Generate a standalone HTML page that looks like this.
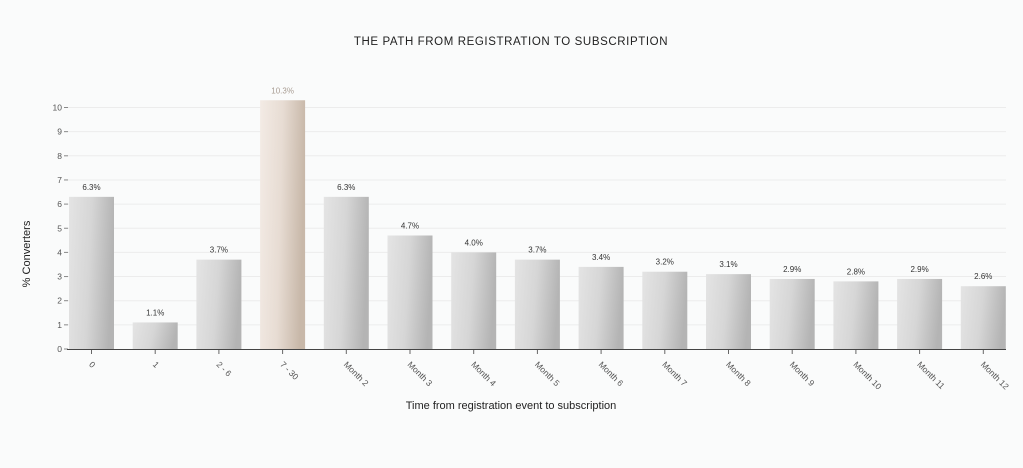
<!DOCTYPE html>
<html><head><meta charset="utf-8"><style>
body{margin:0;background:#fafbfb;font-family:"Liberation Sans",sans-serif}
svg{display:block}
</style></head><body>
<svg width="1023" height="468" viewBox="0 0 1023 468" xmlns="http://www.w3.org/2000/svg">
<defs>
<linearGradient id="g" x1="0" y1="0" x2="1" y2="0.15"><stop offset="0" stop-color="#e4e4e4"/><stop offset="0.5" stop-color="#d6d6d6"/><stop offset="1" stop-color="#b4b4b4"/></linearGradient>
<linearGradient id="h" x1="0" y1="0" x2="1" y2="0.15"><stop offset="0" stop-color="#f3ebe5"/><stop offset="0.5" stop-color="#e7dcd3"/><stop offset="1" stop-color="#c8b8a9"/></linearGradient>
</defs>
<rect width="1023" height="468" fill="#fafbfb"/>
<text x="511" y="45" text-anchor="middle" font-size="11.5" letter-spacing="0.6" fill="#222">THE PATH FROM REGISTRATION TO SUBSCRIPTION</text>
<text transform="translate(30,254) rotate(-90)" text-anchor="middle" font-size="11" fill="#222">% Converters</text>
<text x="511" y="409" text-anchor="middle" font-size="11" fill="#222">Time from registration event to subscription</text>
<g id="grid"></g><g id="bars"></g><g id="xl"></g>
<line x1="67" y1="349.5" x2="1006" y2="349.5" stroke="#444" stroke-width="1"/>
</svg>
<script>
const categories=["0","1","2 - 6","7 - 30","Month 2","Month 3","Month 4","Month 5","Month 6","Month 7","Month 8","Month 9","Month 10","Month 11","Month 12"];
const values=[6.3,1.1,3.7,10.3,6.3,4.7,4.0,3.7,3.4,3.2,3.1,2.9,2.8,2.9,2.6];
const valueLabels=["6.3%","1.1%","3.7%","10.3%","6.3%","4.7%","4.0%","3.7%","3.4%","3.2%","3.1%","2.9%","2.8%","2.9%","2.6%"];
const yTicks=[0,1,2,3,4,5,6,7,8,9,10];
const highlight=3;
const NS="http://www.w3.org/2000/svg";
const y=v=>349-v*24.15;
const x=i=>91.5+i*63.7;
function mk(t,a,p){const e=document.createElementNS(NS,t);for(const k in a)e.setAttribute(k,a[k]);p.appendChild(e);return e;}
const grid=document.getElementById('grid'),bars=document.getElementById('bars'),xl=document.getElementById('xl');
yTicks.forEach(t=>{
 if(t>0){const l=mk('line',{x1:68,x2:1006,y1:y(t),y2:y(t),stroke:'#ececec','stroke-width':1},grid);
 
 }
 mk('line',{x1:64,x2:68,y1:y(t),y2:y(t),stroke:'#888'},grid);
 const tx=mk('text',{x:62,y:y(t)+3,'text-anchor':'end','font-size':8.5,fill:'#555'},grid);
 tx.textContent=t;
 
 
});
values.forEach((v,i)=>{
 const r=mk('rect',{x:x(i)-22.5,y:y(v),width:45,height:349-y(v),fill:i===highlight?'url(#h)':'url(#g)'},bars);
 
 
 const t=mk('text',{x:x(i),y:y(v)-7,'text-anchor':'middle','font-size':8,fill:i===highlight?'#a89c92':'#333'},bars);
 t.textContent=valueLabels[i];
 
 
 mk('line',{x1:x(i),x2:x(i),y1:349,y2:354,stroke:'#666'},xl);
 const c=mk('text',{transform:`translate(${x(i)-3},365) rotate(45)`,'font-size':8.5,fill:'#555'},xl);
 c.textContent=categories[i];
 
 
});
</script>
</body></html>
